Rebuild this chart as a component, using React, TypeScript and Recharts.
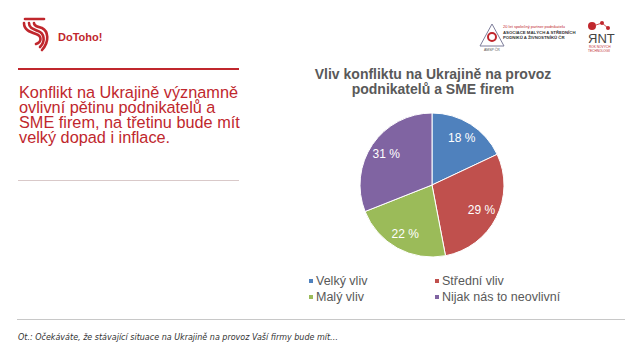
import { PieChart, Pie, Cell, Legend } from "recharts";

const categories = ["Velký vliv", "Střední vliv", "Malý vliv", "Nijak nás to neovlivní"];
const shares = [18, 29, 22, 31];
const colors = ["#4F81BD", "#C0504D", "#9BBB59", "#8064A2"];

const data = categories.map((name, i) => ({ name, value: shares[i] }));

const FONT = "'Liberation Sans', Arial, sans-serif";
const RED = "#C0272D";

const RADIAN = Math.PI / 180;

function renderLabel(props: any) {
    const { cx, cy, midAngle, outerRadius, value } = props;
    const r = outerRadius * 0.77;
    const x = cx + r * Math.cos(-midAngle * RADIAN);
    const y = cy + r * Math.sin(-midAngle * RADIAN);
    return (
        <text
            x={x}
            y={y}
            fill="#fff"
            fontSize={12}
            fontFamily={FONT}
            textAnchor="middle"
            dominantBaseline="central"
        >
            {value} %
        </text>
    );
}

// legend keeps the order of the categories, two columns
function LegendBox() {
    return (
        <div
            style={{
                display: "grid",
                gridTemplateColumns: "126px 150px",
                rowGap: 2,
                fontFamily: FONT,
                fontSize: 12.5,
                color: "#595959",
            }}
        >
            {categories.map((c, i) => (
                <div key={c} style={{ display: "flex", alignItems: "center", lineHeight: "14px" }}>
                    <span
                        style={{
                            width: 4,
                            height: 4,
                            background: colors[i],
                            marginRight: 3,
                            display: "inline-block",
                        }}
                    />
                    {c}
                </div>
            ))}
        </div>
    );
}

function Logo() {
    return (
        <svg width={90} height={40} style={{ position: "absolute", left: 20, top: 14 }}>
            <g fill="none" stroke={RED} strokeWidth={2.6} strokeLinecap="round">
                <path d="M5 5 H24" />
                <path d="M4 9 C4 16 10 18 16 20 C22 22 22 28 16 30" />
                <path d="M9 9 C9 14 13 15 18 17 C24 19 26 27 20 33" />
                <path d="M14 9 C14 12 18 13 22 14 C28 17 30 27 22 36" />
            </g>
            <text x={38} y={27} fill={RED} fontSize={11} fontWeight="bold" fontFamily={FONT}>
                DoToho!
            </text>
        </svg>
    );
}

function PartnerLogos() {
    return (
        <svg width={170} height={50} style={{ position: "absolute", left: 470, top: 10 }}>
            <path d="M22 14 L10 36 H34 Z" fill="none" stroke="#7d7d9a" strokeWidth={1} />
            <circle cx={22} cy={27} r={4} fill="none" stroke="#C0272D" strokeWidth={2} />
            <text x={14} y={41} fontSize={3.5} fill="#555" fontFamily={FONT}>AMSP ČR</text>
            <text x={33} y={18} fontSize={4} fill="#C0272D" fontFamily={FONT}>20 let společný partner podnikatelů</text>
            <text x={33} y={24} fontSize={4.3} fill="#333" fontWeight="bold" fontFamily={FONT}>ASOCIACE MALÝCH A STŘEDNÍCH</text>
            <text x={33} y={29} fontSize={4.3} fill="#333" fontWeight="bold" fontFamily={FONT}>PODNIKŮ A ŽIVNOSTNÍKŮ ČR</text>
            <circle cx={122} cy={16} r={4} fill="#C0272D" />
            <circle cx={132} cy={13} r={2} fill="#C0272D" />
            <circle cx={138} cy={18} r={2} fill="#C0272D" />
            <path d="M126 15 L132 13 L138 18" stroke="#C0272D" strokeWidth={0.8} fill="none" />
            <text x={118} y={33} fontSize={13} fill="#444" fontFamily={FONT}>ЯNT</text>
            <text x={119} y={38} fontSize={3.2} fill="#C0272D" fontFamily={FONT}>ROK NOVÝCH</text>
            <text x={118} y={42} fontSize={3.2} fill="#C0272D" fontFamily={FONT}>TECHNOLOGIÍ</text>
        </svg>
    );
}

export default function App() {
    return (
        <div
            style={{
                position: "absolute",
                left: 0,
                top: 0,
                width: 640,
                height: 362,
                background: "#fff",
                overflow: "hidden",
                fontFamily: FONT,
            }}
        >
            <Logo />
            <PartnerLogos />

            <div style={{ position: "absolute", left: 18, top: 68, width: 221, height: 2, background: RED }} />
            <div
                style={{
                    position: "absolute",
                    left: 19,
                    top: 85,
                    width: 226,
                    fontSize: 16.3,
                    lineHeight: "15px",
                    color: RED,
                }}
            >
                Konflikt na Ukrajině významně ovlivní pětinu podnikatelů a SME firem, na třetinu bude mít velký dopad i
                inflace.
            </div>
            <div style={{ position: "absolute", left: 18, top: 180, width: 221, height: 1, background: "#d9c9c9" }} />

            <div style={{ position: "absolute", left: 0, top: 0 }}>
                <PieChart width={640} height={362} margin={{ top: 0, right: 0, bottom: 0, left: 0 }}>
                    <text
                        x={433}
                        y={74}
                        textAnchor="middle"
                        dominantBaseline="central"
                        fontSize={14}
                        fontWeight="bold"
                        fill="#595959"
                        fontFamily={FONT}
                    >
                        Vliv konfliktu na Ukrajině na provoz
                    </text>
                    <text
                        x={433}
                        y={89}
                        textAnchor="middle"
                        dominantBaseline="central"
                        fontSize={14}
                        fontWeight="bold"
                        fill="#595959"
                        fontFamily={FONT}
                    >
                        podnikatelů a SME firem
                    </text>
                    <Pie
                        data={data}
                        dataKey="value"
                        nameKey="name"
                        cx={432}
                        cy={185}
                        outerRadius={72}
                        startAngle={90}
                        endAngle={-270}
                        stroke="#fff"
                        strokeWidth={1}
                        label={renderLabel}
                        labelLine={false}
                        isAnimationActive={false}
                    >
                        {data.map((d, i) => (
                            <Cell key={d.name} fill={colors[i]} />
                        ))}
                    </Pie>
                    <Legend
                        content={<LegendBox />}
                        wrapperStyle={{ position: "absolute", left: 309, top: 274, width: 290 }}
                    />
                </PieChart>
            </div>

            <div style={{ position: "absolute", left: 17, top: 319, width: 608, height: 1, background: "#c8c8c8" }} />
            <div
                style={{
                    position: "absolute",
                    left: 18,
                    top: 333,
                    fontSize: 8,
                    fontStyle: "italic",
                    color: "#333",
                    fontFamily: "'DejaVu Sans', sans-serif",
                }}
            >
                Ot.: Očekáváte, že stávající situace na Ukrajině na provoz Vaší firmy bude mít…
            </div>
        </div>
    );
}
